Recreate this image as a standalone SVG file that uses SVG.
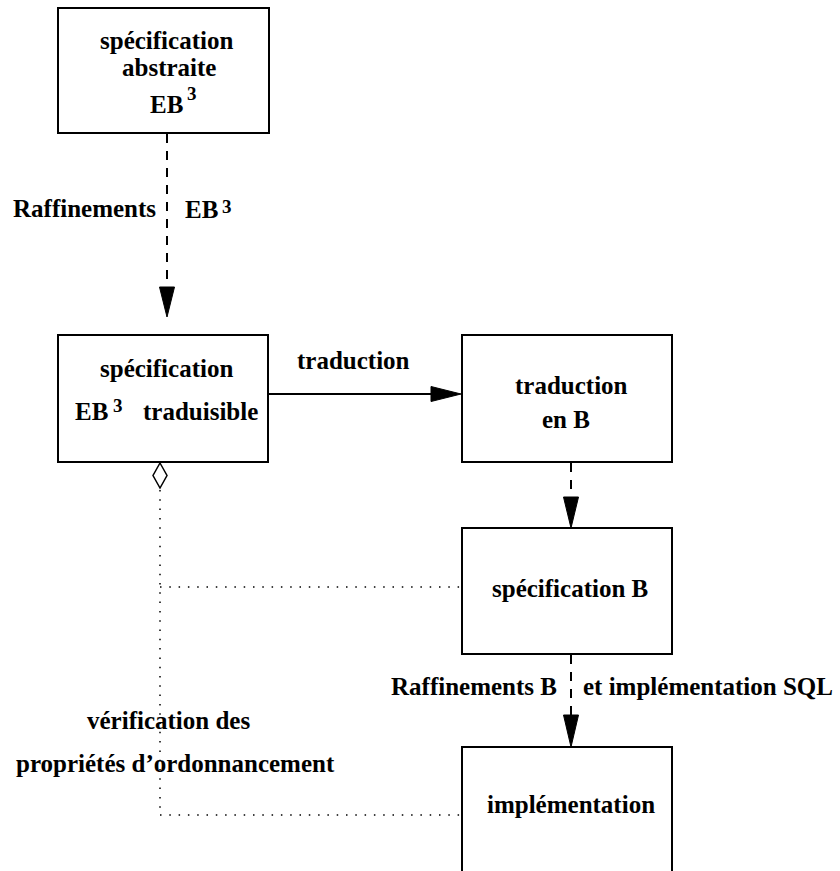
<svg xmlns="http://www.w3.org/2000/svg" width="840" height="871" viewBox="0 0 840 871">
<style>
.box{fill:#fff;stroke:#000;stroke-width:2}
.t{font-family:"Liberation Serif","Times New Roman",serif;font-weight:bold;font-size:25px;fill:#000}
.sup{font-family:"Liberation Serif","Times New Roman",serif;font-weight:bold;font-size:19px;fill:#000}
.dash{fill:none;stroke:#000;stroke-width:2;stroke-dasharray:9,8}
.solid{fill:none;stroke:#000;stroke-width:2}
.dot{fill:none;stroke:#000;stroke-width:1.5;stroke-dasharray:1.5,7.8}
.head{fill:#000;stroke:#000;stroke-width:1}
</style>
<rect width="840" height="871" fill="#fff"/>
<g id="connectors">
<line class="dash" x1="167" y1="134" x2="167" y2="288"/>
<polygon class="head" points="167,317 159.5,287 174.5,287"/>
<text class="t" x="13" y="217">Raffinements</text>
<text class="t" x="185" y="218">EB</text>
<text class="sup" x="222" y="213">3</text>
<line class="solid" x1="268" y1="394" x2="432" y2="394"/>
<polygon class="head" points="461,394 431,386.5 431,401.5"/>
<text class="t" x="297" y="369">traduction</text>
<line class="dash" x1="571" y1="463" x2="571" y2="498"/>
<polygon class="head" points="571,528 563.5,497 578.5,497"/>
<line class="dash" x1="571" y1="655" x2="571" y2="716"/>
<polygon class="head" points="571,747 563.5,715 578.5,715"/>
<text class="t" x="557" y="695" text-anchor="end">Raffinements B</text>
<text class="t" x="583" y="695">et implémentation SQL</text>
<line class="dot" x1="160" y1="490" x2="160" y2="815"/>
<line class="dot" x1="160" y1="587" x2="462" y2="587"/>
<line class="dot" x1="160" y1="815" x2="462" y2="815"/>
<polygon points="160,463 167,475.5 160,488 153,475.5" fill="#fff" stroke="#000" stroke-width="1.5"/>
<text class="t" x="87" y="729">vérification des</text>
<text class="t" x="16" y="772">propriétés d’ordonnancement</text>
</g>
<g id="node-abstraite">
<rect class="box" x="58" y="8" width="211" height="125"/>
<text class="t" x="100" y="49">spécification</text>
<text class="t" x="122" y="76">abstraite</text>
<text class="t" x="150" y="113">EB</text>
<text class="sup" x="187" y="100">3</text>
</g>
<g id="node-traduisible">
<rect class="box" x="58" y="335" width="210" height="127"/>
<text class="t" x="100" y="377">spécification</text>
<text class="t" x="75" y="420">EB</text>
<text class="sup" x="113" y="412">3</text>
<text class="t" x="143" y="420">traduisible</text>
</g>
<g id="node-traductionB">
<rect class="box" x="462" y="335" width="210" height="127"/>
<text class="t" x="515" y="394">traduction</text>
<text class="t" x="542" y="428">en B</text>
</g>
<g id="node-specB">
<rect class="box" x="462" y="528" width="210" height="126"/>
<text class="t" x="492" y="597">spécification B</text>
</g>
<g id="node-implementation">
<rect class="box" x="462" y="747" width="210" height="140"/>
<text class="t" x="487" y="813">implémentation</text>
</g>
</svg>
